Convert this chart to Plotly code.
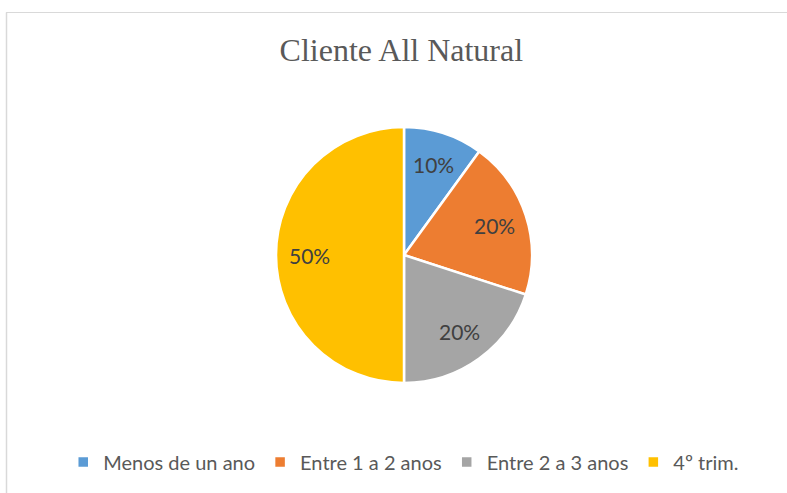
import math
import plotly.graph_objects as go

categories = ["Menos de un ano", "Entre 1 a 2 anos", "Entre 2 a 3 anos", "4º trim."]
values = [10, 20, 20, 50]
colors = ["#5B9BD5", "#ED7D31", "#A5A5A5", "#FFC000"]
title_text = "Cliente All Natural"

W, H = 787, 493
cx, cy, R = 404, 255, 128  # pie centre / radius in pixels

fig = go.Figure()
fig.add_trace(go.Pie(
    labels=categories,
    values=values,
    sort=False,
    direction="clockwise",
    rotation=0,
    marker=dict(colors=colors, line=dict(color="white", width=2.5)),
    textinfo="none",
    hoverinfo="label+percent",
    domain=dict(x=[(cx - R) / W, (cx + R) / W], y=[1 - (cy + R) / H, 1 - (cy - R) / H]),
))

# percentage labels placed at the middle angle of each slice
total = sum(values)
cum = 0
annotations = []
for v in values:
    mid = (cum + v / 2) / total * 2 * math.pi
    cum += v
    r = 0.74 * R
    px = cx + r * math.sin(mid)
    py = cy - r * math.cos(mid)
    annotations.append(dict(
        x=px / W, y=1 - py / H, xref="paper", yref="paper",
        text=f"{round(v / total * 100)}%", showarrow=False,
        font=dict(family="Lato", size=21, color="#404040"),
        xanchor="center", yanchor="middle",
    ))

fig.update_layout(
    width=W, height=H,
    margin=dict(l=0, r=0, t=0, b=0),
    paper_bgcolor="white",
    plot_bgcolor="white",
    title=dict(text=title_text, x=0.510, xanchor="center", y=1 - 50 / H, yanchor="middle",
               font=dict(family="Liberation Serif", size=32, color="#595959")),
    showlegend=True,
    legend=dict(orientation="h", x=0.513, xanchor="center", y=1 - 462 / H, yanchor="middle",
                font=dict(family="Lato", size=20, color="#595959"),
                itemclick=False, itemdoubleclick=False, tracegroupgap=0),
    annotations=annotations,
    shapes=[
        dict(type="line", xref="paper", yref="paper", x0=6 / W, x1=1, y0=1 - 12.5 / H, y1=1 - 12.5 / H,
             line=dict(color="#D9D9D9", width=1)),
        dict(type="line", xref="paper", yref="paper", x0=6.5 / W, x1=6.5 / W, y0=0, y1=1 - 12.5 / H,
             line=dict(color="#D9D9D9", width=1.5)),
    ],
)

fig.write_html("out.html", config={"displayModeBar": False},
               post_script="document.body.style.margin='0';document.body.style.overflow='hidden';")
